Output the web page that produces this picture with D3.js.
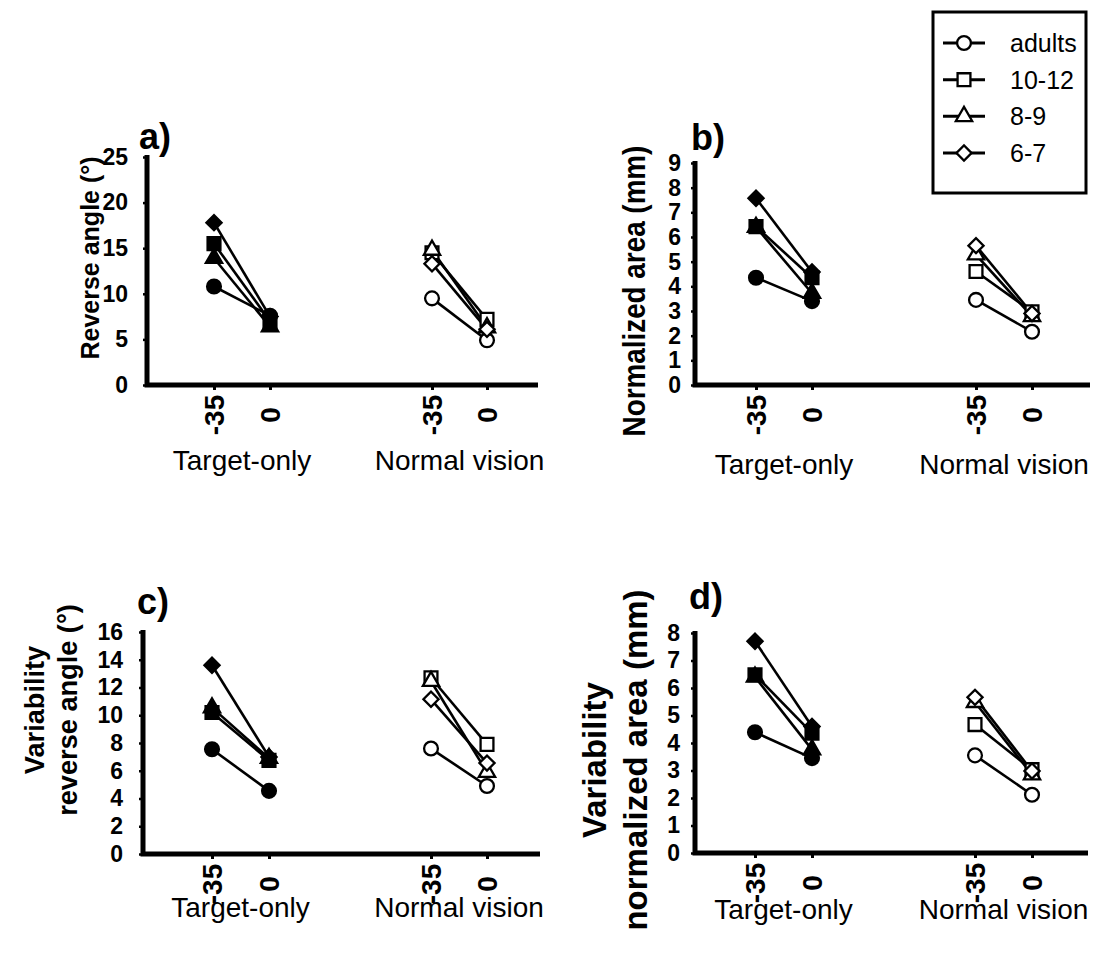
<!DOCTYPE html>
<html>
<head>
<meta charset="utf-8">
<script src="https://cdn.jsdelivr.net/npm/d3@7"></script>
<style>
  html, body { margin: 0; padding: 0; background: #fff; }
  svg { display: block; font-family: "Liberation Sans", Arial, Helvetica, sans-serif; }
</style>
</head>
<body>
<svg id="fig" width="1096" height="958"></svg>
<script>
// Age groups and viewing conditions
const groups = ["adults", "10-12", "8-9", "6-7"];
const conditions = ["Target-only", "Normal vision"];
const distances = ["-35", "0"];

// Each row is one age group: [value at -35, value at 0]
// a) Reverse angle (°)
const reverseAngleTarget = [[10.8, 7.6], [15.5, 7.0], [13.9, 6.4], [17.8, 7.5]];
const reverseAngleNormal = [[9.5, 4.9], [14.5, 7.2], [14.8, 6.3], [13.3, 6.1]];
// b) Normalized area (mm)
const areaTarget = [[4.35, 3.4], [6.42, 4.35], [6.4, 3.72], [7.57, 4.58]];
const areaNormal = [[3.45, 2.16], [4.6, 2.97], [5.28, 2.78], [5.65, 2.9]];
// c) Variability of reverse angle (°)
const varAngleTarget = [[7.55, 4.55], [10.2, 6.75], [10.55, 6.9], [13.6, 7.0]];
const varAngleNormal = [[7.6, 4.9], [12.7, 7.9], [12.45, 5.9], [11.15, 6.55]];
// d) Variability of normalized area (mm)
const varAreaTarget = [[4.39, 3.45], [6.48, 4.36], [6.4, 3.76], [7.7, 4.6]];
const varAreaNormal = [[3.55, 2.12], [4.67, 3.03], [5.48, 2.85], [5.66, 2.98]];

// Y tick labels per panel
const angleTicks = [0, 5, 10, 15, 20, 25];
const areaTicks = [0, 1, 2, 3, 4, 5, 6, 7, 8, 9];
const varAngleTicks = [0, 2, 4, 6, 8, 10, 12, 14, 16];
const varAreaTicks = [0, 1, 2, 3, 4, 5, 6, 7, 8];

const svg = d3.select("#fig");

// marker shape per age group
const shapes = {
  "adults": { type: d3.symbolCircle, size: 150, rot: 0 },
  "10-12": { type: d3.symbolSquare, size: 165, rot: 0 },
  "8-9": { type: d3.symbolTriangle, size: 115, rot: 0 },
  "6-7": { type: d3.symbolSquare, size: 115, rot: 45 }
};

function drawMarker(g, group, x, y, filled) {
  const s = shapes[group];
  g.append("path")
    .attr("d", d3.symbol().type(s.type).size(s.size)())
    .attr("transform", `translate(${x},${y}) rotate(${s.rot})`)
    .attr("fill", filled ? "#000" : "#fff")
    .attr("stroke", "#000")
    .attr("stroke-width", 2.3);
}

const panels = [
  { letter: "a)", axisX: 147, y0: 385, yTop: 157, xEnd: 538,
    offsets: [67, 123, 285, 340], tickGap: 19, tickSize: 23,
    label: ["Reverse angle (°)"], labelX: [99], labelY: 258, labelSize: 25, labelScale: 1,
    groupY: 470, letterX: 139, letterY: 149,
    target: reverseAngleTarget, normal: reverseAngleNormal, ticks: angleTicks },
  { letter: "b)", axisX: 695, y0: 385, yTop: 163, xEnd: 1090,
    offsets: [61, 117, 281, 337], tickGap: 14, tickSize: 23,
    label: ["Normalized area (mm)"], labelX: [645], labelY: 291, labelSize: 32, labelScale: 0.87,
    groupY: 474, letterX: 691, letterY: 150,
    target: areaTarget, normal: areaNormal, ticks: areaTicks },
  { letter: "c)", axisX: 143, y0: 854, yTop: 632, xEnd: 540,
    offsets: [69, 126, 288, 344], tickGap: 20, tickSize: 23,
    label: ["Variability", "reverse angle (°)"], labelX: [44, 77], labelY: 710, labelSize: 28, labelScale: 0.97,
    groupY: 917, letterX: 137, letterY: 614,
    target: varAngleTarget, normal: varAngleNormal, ticks: varAngleTicks },
  { letter: "d)", axisX: 695, y0: 853, yTop: 633, xEnd: 1088,
    offsets: [60, 117, 280, 337], tickGap: 15, tickSize: 23,
    label: ["Variability", "normalized area (mm)"], labelX: [606, 647], labelY: 760, labelSize: 33, labelScale: 1,
    groupY: 919, letterX: 689, letterY: 609,
    target: varAreaTarget, normal: varAreaNormal, ticks: varAreaTicks }
];

// categorical positions along the x axis: condition x distance
const slots = [];
conditions.forEach(c => distances.forEach(d => slots.push(c + "|" + d)));

panels.forEach(p => {
  const g = svg.append("g");
  const y = d3.scaleLinear()
    .domain([0, d3.max(p.ticks)])
    .range([p.y0, p.yTop]);
  const x = d3.scaleOrdinal()
    .domain(slots)
    .range(p.offsets.map(o => p.axisX + o));

  // y axis
  const yAxis = d3.axisLeft(y).tickValues(p.ticks).tickSize(4).tickSizeOuter(0).tickPadding(p.tickGap - 4);
  const ya = g.append("g").attr("transform", `translate(${p.axisX},0)`).call(yAxis);
  ya.select(".domain").remove();
  ya.selectAll(".tick line").attr("stroke", "#000").attr("stroke-width", 2.5);
  ya.selectAll(".tick text")
    .attr("font-size", p.tickSize).attr("font-weight", "bold")
    .attr("font-family", "Liberation Sans, Arial, sans-serif").attr("fill", "#000");

  // x axis (tick labels rotated)
  const xa = g.append("g").attr("transform", `translate(0,${p.y0})`)
    .call(d3.axisBottom(x).tickSize(5).tickSizeOuter(0).tickFormat(s => s.split("|")[1]));
  xa.select(".domain").remove();
  xa.selectAll(".tick line").attr("stroke", "#000").attr("stroke-width", 3);
  xa.selectAll(".tick text")
    .attr("font-size", 28).attr("font-weight", "bold")
    .attr("font-family", "Liberation Sans, Arial, sans-serif").attr("fill", "#000")
    .attr("text-anchor", "middle").attr("dy", null).attr("y", 0)
    .attr("dominant-baseline", "central")
    .attr("transform", "translate(0,30) rotate(-90)");

  // thick axis lines
  g.append("path")
    .attr("d", `M${p.axisX},${p.yTop - 2}V${p.y0}H${p.xEnd}`)
    .attr("fill", "none").attr("stroke", "#000").attr("stroke-width", 5)
    .attr("stroke-linejoin", "miter");

  // condition labels under each pair
  conditions.forEach(c => {
    const cx = (x(c + "|-35") + x(c + "|0")) / 2;
    g.append("text")
      .attr("x", cx).attr("y", p.groupY)
      .attr("text-anchor", "middle")
      .attr("font-size", 28)
      .text(c);
  });

  // y axis title
  p.label.forEach((line, i) => {
    g.append("text")
      .attr("transform", `translate(${p.labelX[i]},${p.labelY}) rotate(-90) scale(${p.labelScale},1)`)
      .attr("text-anchor", "middle")
      .attr("font-size", p.labelSize).attr("font-weight", "bold")
      .text(line);
  });

  // panel letter
  g.append("text")
    .attr("x", p.letterX).attr("y", p.letterY)
    .attr("font-size", 36).attr("font-weight", "bold")
    .text(p.letter);

  // connecting lines, then markers
  const series = [
    { cond: "Target-only", vals: p.target, filled: true },
    { cond: "Normal vision", vals: p.normal, filled: false }
  ];
  series.forEach(s => {
    s.vals.forEach(v => {
      g.append("line")
        .attr("x1", x(s.cond + "|-35")).attr("y1", y(v[0]))
        .attr("x2", x(s.cond + "|0")).attr("y2", y(v[1]))
        .attr("stroke", "#000").attr("stroke-width", 2.6);
    });
  });
  series.forEach(s => {
    s.vals.forEach((v, gi) => {
      drawMarker(g, groups[gi], x(s.cond + "|-35"), y(v[0]), s.filled);
      drawMarker(g, groups[gi], x(s.cond + "|0"), y(v[1]), s.filled);
    });
  });
});

// legend
const leg = svg.append("g");
leg.append("rect")
  .attr("x", 933).attr("y", 12).attr("width", 153).attr("height", 181)
  .attr("fill", "#fff").attr("stroke", "#000").attr("stroke-width", 3);
const legY = d3.scalePoint().domain(groups).range([43, 153]);
groups.forEach(gr => {
  const yy = legY(gr);
  leg.append("line")
    .attr("x1", 943).attr("x2", 985).attr("y1", yy).attr("y2", yy)
    .attr("stroke", "#000").attr("stroke-width", 3);
  drawMarker(leg, gr, 964, yy, false);
  leg.append("text")
    .attr("x", 1010).attr("y", yy)
    .attr("dominant-baseline", "central")
    .attr("font-size", 25)
    .text(gr);
});
</script>
</body>
</html>
